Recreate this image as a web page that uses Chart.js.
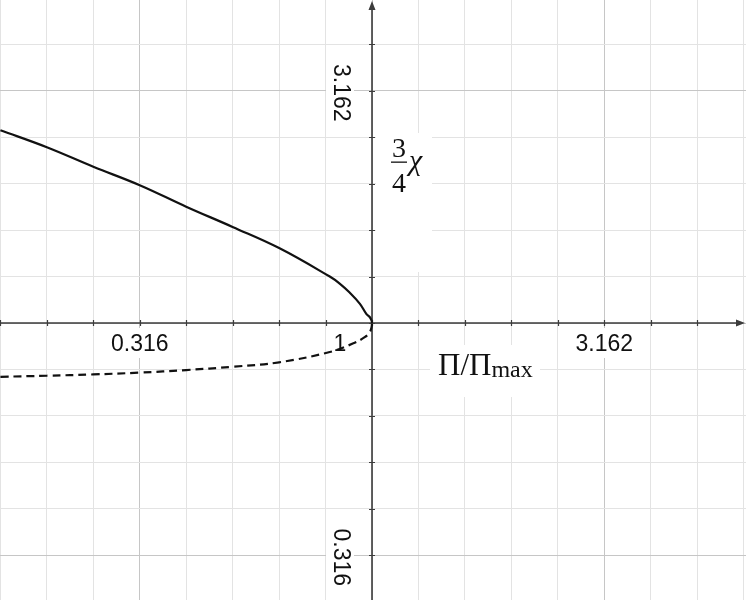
<!DOCTYPE html>
<html>
<head>
<meta charset="utf-8">
<script src="https://cdn.jsdelivr.net/npm/chart.js@4.4.0/dist/chart.umd.min.js"></script>
<style>
  body { margin: 0; background: #fff; }
  #wrap { width: 746px; height: 600px; }
</style>
</head>
<body>
<div id="wrap"><canvas id="foldChart" width="746" height="600"></canvas></div>
<script>
// upper (solid) branch: Pi/Pi_max -> 3/4 chi
const ratioUpper = [0.1585, 0.1995, 0.2512, 0.3162, 0.398, 0.501, 0.631, 0.811, 0.852, 0.895, 0.941, 0.973, 0.9887, 0.998, 1.0];
const chiUpper = [2.60, 2.39, 2.17, 1.98, 1.78, 1.61, 1.45, 1.259, 1.216, 1.163, 1.101, 1.045, 1.030, 1.012, 1.0];

// lower (dashed) branch
const ratioLower = [0.1585, 0.1995, 0.2512, 0.3162, 0.398, 0.501, 0.631, 0.811, 0.909, 0.9645, 0.9887, 0.998, 1.0];
const chiLower = [0.766, 0.770, 0.775, 0.782, 0.792, 0.805, 0.823, 0.866, 0.903, 0.932, 0.955, 0.980, 1.0];

// grid every tenth of a decade, labels every half decade
const xGridSteps = [-8, -7, -6, -5, -4, -3, -2, -1, 0, 1, 2, 3, 4, 5, 6, 7, 8];
const yGridSteps = [-5, -4, -3, -2, -1, 0, 1, 2, 3, 4, 5, 6];
const xTickValues = [0.3162, 1, 3.162];
const xTickLabels = ["0.316", "1", "3.162"];
const yTickValues = [3.162, 0.3162];
const yTickLabels = ["3.162", "0.316"];

const toPoints = (xs, ys) => xs.map((v, i) => ({ x: v, y: ys[i] }));
const gridColor = (steps) => (c) => steps[c.index] % 5 === 0 ? "#c6c6c6" : "#e3e3e3";

function whiteBox(ctx, x, y, w, h) {
  ctx.fillStyle = "#fff";
  ctx.fillRect(x, y, w, h);
}

// axes through (1, 1) with arrows, tick marks and labels
const crossAxes = {
  id: "crossAxes",
  beforeDatasetsDraw(chart) {
    const { ctx, scales: { x, y } } = chart;
    const ox = x.getPixelForValue(1);
    const oy = y.getPixelForValue(1);
    ctx.save();

    // boxes behind the labels
    whiteBox(ctx, ox + 4, oy - 190, 56, 139);
    whiteBox(ctx, ox + 58, oy + 22, 110, 52);

    ctx.strokeStyle = "#3c3c3c";
    ctx.fillStyle = "#3c3c3c";
    ctx.lineWidth = 1.6;
    ctx.beginPath();
    ctx.moveTo(x.left, oy);
    ctx.lineTo(x.right - 4, oy);
    ctx.moveTo(ox, y.bottom);
    ctx.lineTo(ox, y.top + 4);
    ctx.stroke();

    ctx.beginPath();
    ctx.moveTo(x.right - 1, oy);
    ctx.lineTo(x.right - 10, oy - 3.5);
    ctx.lineTo(x.right - 10, oy + 3.5);
    ctx.closePath();
    ctx.moveTo(ox, y.top + 1);
    ctx.lineTo(ox - 3.5, y.top + 10);
    ctx.lineTo(ox + 3.5, y.top + 10);
    ctx.closePath();
    ctx.fill();

    ctx.lineWidth = 1.2;
    ctx.beginPath();
    xGridSteps.forEach((s) => {
      const px = Math.round(x.getPixelForValue(10 ** (s / 10))) + 0.5;
      if (px < x.right - 12) { ctx.moveTo(px, oy - 3); ctx.lineTo(px, oy + 3); }
    });
    yGridSteps.forEach((s) => {
      const py = Math.round(y.getPixelForValue(10 ** (s / 10))) + 0.5;
      if (py > y.top + 12) { ctx.moveTo(ox - 3, py); ctx.lineTo(ox + 3, py); }
    });
    ctx.stroke();

    // tick labels
    ctx.font = "23px 'Liberation Sans', Arial, sans-serif";
    ctx.textAlign = "center";
    ctx.textBaseline = "middle";
    xTickValues.forEach((v, i) => {
      let px = x.getPixelForValue(v);
      if (v === 1) px -= 32;
      const w = ctx.measureText(xTickLabels[i]).width;
      if (v !== 1) whiteBox(ctx, px - w / 2 - 3, oy + 5, w + 6, 30);
      ctx.fillStyle = "#111";
      ctx.fillText(xTickLabels[i], px, oy + 22);
    });
    yTickValues.forEach((v, i) => {
      const py = y.getPixelForValue(v) + 2;
      const w = ctx.measureText(yTickLabels[i]).width;
      whiteBox(ctx, ox - 46, py - w / 2 - 3, 28, w + 6);
      ctx.save();
      ctx.translate(ox - 32, py);
      ctx.rotate(Math.PI / 2);
      ctx.fillStyle = "#111";
      ctx.fillText(yTickLabels[i], 0, 0);
      ctx.restore();
    });

    // y title: 3/4 chi
    ctx.fillStyle = "#111";
    ctx.font = "28px 'Liberation Serif', serif";
    ctx.textBaseline = "alphabetic";
    ctx.fillText("3", ox + 27, oy - 166);
    ctx.fillText("4", ox + 27, oy - 131);
    ctx.fillRect(ox + 19, oy - 161.5, 16, 1.3);
    ctx.font = "italic 30px 'Liberation Serif', serif";
    ctx.textAlign = "left";
    ctx.fillText("χ", ox + 37, oy - 153);

    // x title: Pi/Pi_max
    ctx.font = "31px 'Liberation Serif', serif";
    ctx.fillText("Π/Π", ox + 66, oy + 52);
    const pw = ctx.measureText("Π/Π").width;
    ctx.font = "24px 'Liberation Serif', serif";
    ctx.fillText("max", ox + 66 + pw, oy + 54);

    ctx.restore();
  }
};

new Chart(document.getElementById("foldChart"), {
  type: "scatter",
  data: {
    datasets: [
      {
        label: "upper",
        data: toPoints(ratioUpper, chiUpper),
        showLine: true,
        borderColor: "#111",
        borderWidth: 2.2,
        pointRadius: 0,
        tension: 0.4,
      },
      {
        label: "lower",
        data: toPoints(ratioLower, chiLower),
        showLine: true,
        borderColor: "#111",
        borderWidth: 2.2,
        borderDash: [8, 5],
        pointRadius: 0,
        tension: 0.4,
      },
    ],
  },
  options: {
    responsive: false,
    animation: false,
    layout: { padding: 0 },
    plugins: {
      legend: { display: false },
      tooltip: { enabled: false },
    },
    scales: {
      x: {
        type: "logarithmic",
        bounds: "data",
        min: 10 ** (-372 / 464.5),
        max: 10 ** (374 / 464.5),
        afterBuildTicks: (scale) => {
          scale.ticks = xGridSteps.map((s) => ({ value: 10 ** (s / 10) }));
        },
        ticks: { display: false },
        border: { display: false },
        grid: { drawTicks: false, color: gridColor(xGridSteps), lineWidth: 1 },
      },
      y: {
        type: "logarithmic",
        bounds: "data",
        min: 10 ** (-277 / 464.5),
        max: 10 ** (323 / 464.5),
        afterBuildTicks: (scale) => {
          scale.ticks = yGridSteps.map((s) => ({ value: 10 ** (s / 10) }));
        },
        ticks: { display: false },
        border: { display: false },
        grid: { drawTicks: false, color: gridColor(yGridSteps), lineWidth: 1 },
      },
    },
  },
  plugins: [crossAxes],
});
</script>
</body>
</html>
